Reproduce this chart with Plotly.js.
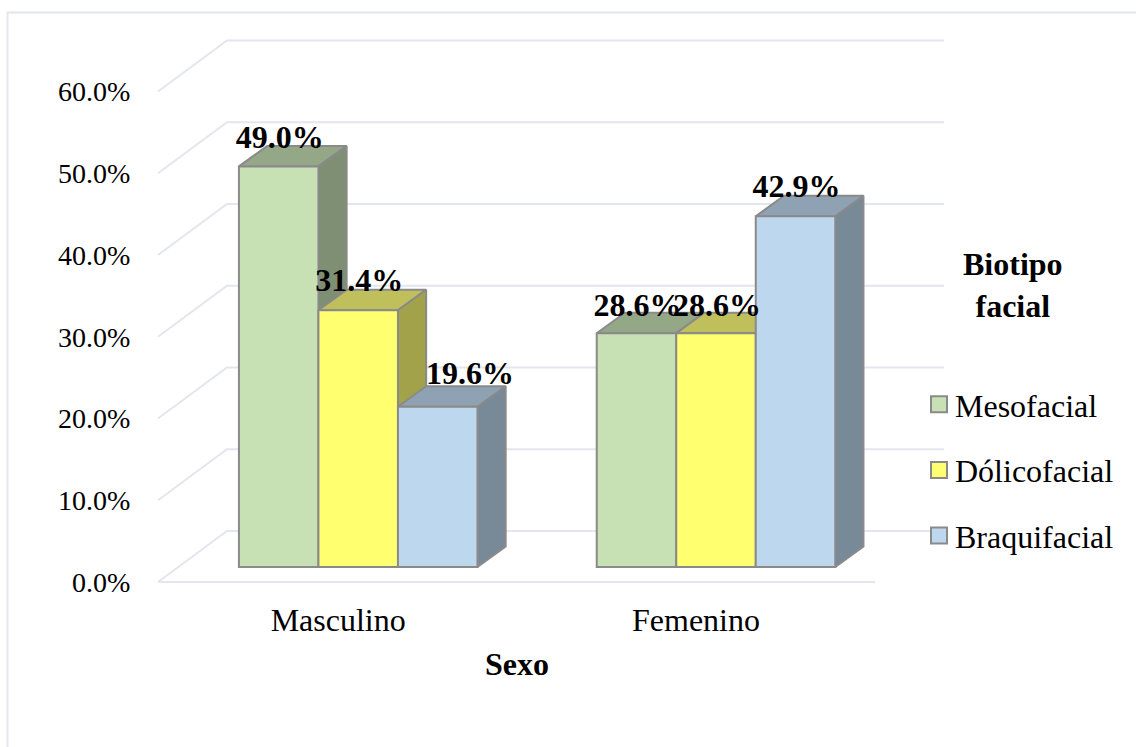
<!DOCTYPE html>
<html><head><meta charset="utf-8">
<script src="https://cdn.plot.ly/plotly-3.0.1.min.js"></script>
<style>html,body{margin:0;padding:0;background:#fff}#c{width:1136px;height:747px}</style>
</head><body><div id="c"></div>
<script>
const categories = ["Masculino", "Femenino"];
const seriesNames = ["Mesofacial", "Dólicofacial", "Braquifacial"];
const mesofacial = [49.0, 28.6];
const dolicofacial = [31.4, 28.6];
const braquifacial = [19.6, 42.9];
const yTicks = [0, 10, 20, 30, 40, 50, 60];
const labelShiftX = [[0.003, 0.003], [0.003, 0.003], [0.09, 0.003]];
const labelLiftPx = [[26, 25], [27, 25], [31, 27]];
const frontColors = ["#C7E1B5", "#FFFF6F", "#BDD7EE"];
const topColors = ["#94A888", "#BFBF5C", "#8EA2B3"];
const sideColors = ["#7F8F73", "#A2A24B", "#788998"];
const edge = "#8A8A8A", gridCol = "#E3E6EE", font = "Liberation Serif";

const W = 1136, H = 747, L = 84, R = 950, T = 20, B = 598;
const pxX = 357.8, pxY = 8.175;
const xRange = [(L - 358.2) / pxX, (R - 358.2) / pxX];
const yRange = [(582 - B) / pxY, (582 - T) / pxY];
const all = [mesofacial, dolicofacial, braquifacial];
const barW = 2 / 9, base = 15 / pxY, dx = 28.2 / pxX, dy = 20.5 / pxY;
const gx0 = (158 - 358.2) / pxX, gx1 = (875 - 358.2) / pxX, wallDx = 69 / pxX, wallDy = 51 / pxY;
const paperX = p => (p - L) / (R - L), paperY = p => (B - p) / (B - T);

const traces = [];
// walls and floor
const gridX = [], gridY = [];
yTicks.forEach(v => {
  gridX.push(gx0, gx0 + wallDx, gx1 + wallDx, null);
  gridY.push(v, v + wallDy, v + wallDy, null);
});
gridX.push(gx0, gx1, null); gridY.push(0, 0, null);
traces.push({x: gridX, y: gridY, mode: "lines", line: {color: gridCol, width: 2}, hoverinfo: "skip", showlegend: false});

// top and side faces, painted from the first series to the last
const face = (xs, ys, color) => ({x: xs, y: ys, mode: "lines", fill: "toself", fillcolor: color,
  line: {color: edge, width: 2}, hoverinfo: "skip", showlegend: false});
categories.forEach((c, g) => {
  all.forEach((vals, s) => {
    const xl = g + (s - 1.5) * barW, xr = xl + barW, t = base + vals[g];
    traces.push(face([xl, xl + dx, xr + dx, xr, xl], [t, t + dy, t + dy, t, t], topColors[s]));
    traces.push(face([xr, xr + dx, xr + dx, xr, xr], [t, t + dy, base + dy, base, t], sideColors[s]));
  });
});

// front faces
all.forEach((vals, s) => {
  traces.push({type: "bar", name: seriesNames[s], x: categories.map((c, i) => i), y: vals,
    base: vals.map(() => base), xaxis: "x2", yaxis: "y2", showlegend: false,
    marker: {color: frontColors[s], line: {color: edge, width: 2}}});
});
// value labels
all.forEach((vals, s) => {
  traces.push({x: vals.map((v, g) => g + (s - 1) * barW + labelShiftX[s][g]),
    y: vals.map((v, g) => v + base + labelLiftPx[s][g] / pxY), xaxis: "x2", yaxis: "y2", mode: "text",
    text: vals.map(v => v.toFixed(1) + "%"), textposition: "middle center",
    textfont: {family: font, size: 32, color: "#000", weight: 700},
    hoverinfo: "skip", showlegend: false, cliponaxis: false});
});
// legend keys
all.forEach((vals, s) => {
  traces.push({x: [null], y: [null], xaxis: "x2", yaxis: "y2", mode: "markers", name: seriesNames[s],
    legendgroup: seriesNames[s],
    marker: {symbol: "square", size: 16, color: frontColors[s], line: {color: edge, width: 2}}});
});

const layout = {
  width: W, height: H, margin: {l: L, r: W - R, t: T, b: H - B, pad: 0},
  paper_bgcolor: "#fff", plot_bgcolor: "rgba(0,0,0,0)",
  font: {family: font, color: "#000", size: 28},
  barmode: "group", bargap: 1 / 3, bargroupgap: 0, showlegend: true,
  legend: {x: paperX(919), y: paperY(377), xanchor: "left", yanchor: "top", tracegroupgap: 21,
    itemsizing: "trace", font: {family: font, size: 32}, bgcolor: "rgba(0,0,0,0)"},
  xaxis: {range: xRange, domain: [0, 1], tickmode: "array", tickvals: categories.map((c, i) => i - 20 / pxX),
    ticktext: categories, showgrid: false, zeroline: false, showline: false, ticks: "", tickfont: {family: font, size: 32},
    title: {text: "<b>Sexo</b>", font: {family: font, size: 32}, standoff: 15}},
  yaxis: {range: yRange, anchor: "free", position: paperX(140), tickmode: "array", tickvals: yTicks,
    ticktext: yTicks.map(v => v.toFixed(1) + "%"), showgrid: false, zeroline: false, showline: false,
    ticks: "outside", ticklen: 4, tickcolor: "rgba(0,0,0,0)", tickfont: {family: font, size: 28}},
  xaxis2: {range: xRange, overlaying: "x", anchor: "y2", visible: false},
  yaxis2: {range: yRange, overlaying: "y", anchor: "x2", visible: false},
  annotations: [{xref: "paper", yref: "paper", x: paperX(1013), y: paperY(285), xanchor: "center", yanchor: "middle",
    showarrow: false, align: "center", text: "<b>Biotipo<br>facial</b>", font: {family: font, size: 32, color: "#000"}}],
  shapes: [{type: "path", xref: "paper", yref: "paper", line: {color: gridCol, width: 2},
    path: `M${paperX(7.5)},${paperY(747)} L${paperX(7.5)},${paperY(12.5)} L${paperX(1136)},${paperY(12.5)}`}]
};
Plotly.newPlot("c", traces, layout, {displayModeBar: false, staticPlot: true}).then(() => {
  document.querySelectorAll(".legendtext").forEach(t => t.setAttribute("x", +t.getAttribute("x") - 4));
});
</script></body></html>
